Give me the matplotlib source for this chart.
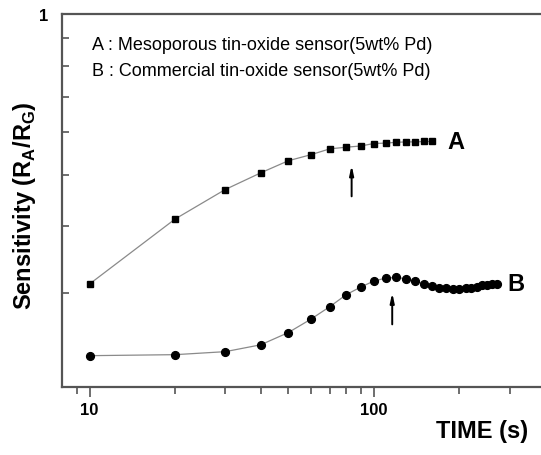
import matplotlib
matplotlib.use("Agg")
import matplotlib.pyplot as plt
from matplotlib.ticker import FixedLocator, NullFormatter, FixedFormatter

plt.rcParams["font.family"] = ["Liberation Sans", "DejaVu Sans"]

# sensor A (mesoporous), squares
time_a = [10, 20, 30, 40, 50, 60, 70, 80, 90, 100, 110, 120, 130, 140, 150, 160]
sens_a = [0.312, 0.413, 0.469, 0.504, 0.531, 0.545, 0.559, 0.563, 0.566, 0.572,
          0.573, 0.575, 0.576, 0.576, 0.577, 0.577]

# sensor B (commercial), circles
time_b = [10, 20, 30, 40, 50, 60, 70, 80, 90, 100, 110, 120, 130, 140, 150, 160,
          170, 180, 190, 200, 210, 220, 230, 240, 250, 260, 270]
sens_b = [0.229, 0.230, 0.233, 0.240, 0.253, 0.268, 0.283, 0.298, 0.308, 0.316,
          0.320, 0.321, 0.319, 0.316, 0.312, 0.309, 0.307, 0.306, 0.305, 0.305,
          0.306, 0.307, 0.308, 0.310, 0.311, 0.312, 0.312]

# response-time arrows: (time, bottom, top)
arrow_a = (83.5, 0.45, 0.527)
arrow_b = (116, 0.259, 0.304)

fig = plt.figure(figsize=(5.41, 4.56), dpi=100)
ax = fig.add_axes([0.1146, 0.149, 0.8854, 0.818])

line_kw = dict(color="#8a8a8a", lw=0.9, markerfacecolor="black", markeredgecolor="black")
ax.plot(time_a, sens_a, marker="s", ms=5.0, **line_kw)
ax.plot(time_b, sens_b, marker="o", ms=5.6, **line_kw)

for t, y0, y1 in (arrow_a, arrow_b):
    ax.annotate("", xy=(t, y1), xytext=(t, y0),
                arrowprops=dict(arrowstyle="-|>,head_length=0.55,head_width=0.12",
                                color="black", lw=1.4))

ax.set_xscale("log")
ax.set_yscale("log")
ax.set_xlim(8, 387)
ax.set_ylim(0.2, 1.0)

ax.xaxis.set_major_locator(FixedLocator([10, 100]))
ax.xaxis.set_major_formatter(FixedFormatter(["10", "100"]))
ax.xaxis.set_minor_locator(FixedLocator([9, 20, 30, 40, 50, 60, 70, 80, 90, 200, 300]))
ax.xaxis.set_minor_formatter(NullFormatter())
ax.yaxis.set_major_locator(FixedLocator([1.0]))
ax.yaxis.set_major_formatter(FixedFormatter(["1"]))
ax.yaxis.set_minor_locator(FixedLocator([0.3, 0.4, 0.5, 0.6, 0.7, 0.8, 0.9]))
ax.yaxis.set_minor_formatter(NullFormatter())

spine_col = "#555555"
for side in ("left", "bottom", "top"):
    ax.spines[side].set_color(spine_col)
    ax.spines[side].set_linewidth(1.6)
ax.spines["right"].set_visible(False)

ax.tick_params(axis="x", which="major", direction="out", length=7, width=1.2,
               color=spine_col, labelsize=12, pad=4)
ax.tick_params(axis="x", which="minor", direction="out", length=5, width=1.2, color=spine_col)
ax.tick_params(axis="y", which="major", direction="in", length=6, width=1.2,
               color=spine_col, labelsize=12, pad=10)
ax.tick_params(axis="y", which="minor", direction="in", length=5, width=1.2, color=spine_col)
for lbl in ax.get_xticklabels() + ax.get_yticklabels():
    lbl.set_fontweight("bold")

fig.text(25 / 541, 1 - 206 / 456,
         r"Sensitivity (R$_\mathregular{A}$/R$_\mathregular{G}$)",
         fontsize=17, fontweight="bold", rotation=90, ha="center", va="center")
fig.text(0.976, 0.04, "TIME (s)", fontsize=17, fontweight="bold", ha="right", va="baseline")

fig.text(92 / 541, 1 - 46 / 456, "A : Mesoporous tin-oxide sensor(5wt% Pd)", fontsize=13, va="center")
fig.text(92 / 541, 1 - 72 / 456, "B : Commercial tin-oxide sensor(5wt% Pd)", fontsize=13, va="center")

ax.text(182, sens_a[-1], "A", fontsize=17, fontweight="bold", va="center")
ax.text(295, sens_b[-1], "B", fontsize=17, fontweight="bold", va="center")

fig.savefig("out.png", dpi=100)
